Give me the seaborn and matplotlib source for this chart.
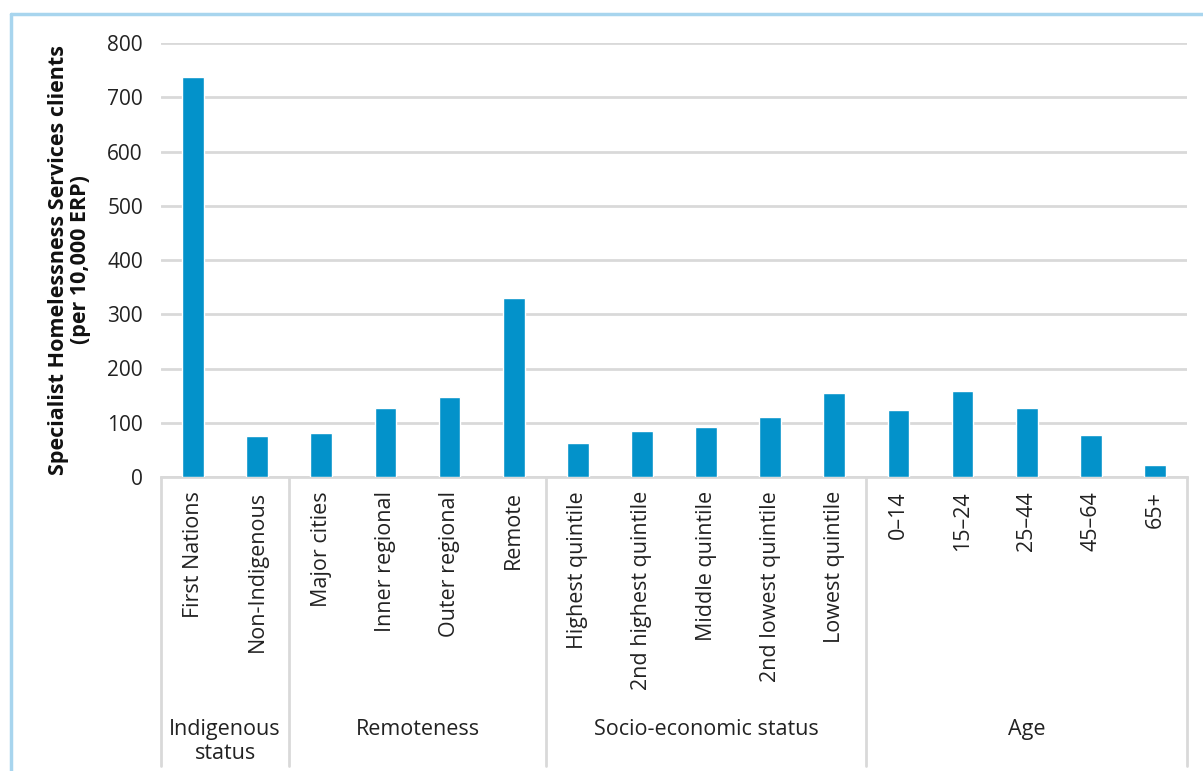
import matplotlib
matplotlib.use("Agg")
import matplotlib.pyplot as plt
import matplotlib.transforms as mtransforms
from matplotlib.lines import Line2D
import seaborn as sns
import pandas as pd

categories = ["First Nations", "Non-Indigenous",
              "Major cities", "Inner regional", "Outer regional", "Remote",
              "Highest quintile", "2nd highest quintile", "Middle quintile",
              "2nd lowest quintile", "Lowest quintile",
              "0–14", "15–24", "25–44", "45–64", "65+"]
values = [737, 76, 82, 128, 147, 330, 62, 85, 92, 111, 154, 123, 158, 128, 78, 23]
groups = ["Indigenous\nstatus", "Remoteness", "Socio-economic status", "Age"]
group_sizes = [2, 4, 5, 5]
y_ticks = [0, 100, 200, 300, 400, 500, 600, 700, 800]

sns.set_theme(style="white")
plt.rcParams["font.family"] = ["Open Sans", "DejaVu Sans"]

fig = plt.figure(figsize=(12.03, 7.71), dpi=100)
ax = fig.add_axes([161/1203, 1-477/771, (1187-161)/1203, (477-43)/771])

df = pd.DataFrame({"category": categories, "value": values})
sns.barplot(data=df, x="category", y="value", order=categories,
            color="#0392CA", saturation=1, width=0.34, ax=ax, zorder=3)

ax.set_ylim(0, 800)
ax.set_xlim(-0.5, len(categories) - 0.5)
ax.set_yticks(y_ticks)
ax.set_yticklabels([str(t) for t in y_ticks], fontsize=15, color="#222222")
ax.yaxis.grid(True, color="#d9d9d9", linewidth=2, zorder=0)
ax.tick_params(axis="y", length=0, pad=13)
ax.tick_params(axis="x", length=0, pad=10)
ax.set_xticks(range(len(categories)))
ax.set_xticklabels(categories, rotation=90, fontsize=15.5, color="#222222", va="top")
ax.set_xlabel("")
ax.set_ylabel("Specialist Homelessness Services clients\n(per 10,000 ERP)",
              fontsize=15.5, fontweight="bold", color="#111111", labelpad=12,
              linespacing=1.05)
for s in ["top", "right", "left"]:
    ax.spines[s].set_visible(False)
ax.spines["bottom"].set_color("#d9d9d9")
ax.spines["bottom"].set_linewidth(2)

# group separators and labels
trans = mtransforms.blended_transform_factory(ax.transData, fig.transFigure)
y_bot = 1 - 766/771
y_top = 1 - 477/771
pos = -0.5
edges = [pos]
for n in group_sizes:
    pos += n
    edges.append(pos)
for e in edges:
    ax.add_line(Line2D([e, e], [y_top, y_bot], transform=trans, color="#d9d9d9",
                       linewidth=2, clip_on=False))
for g, a, b in zip(groups, edges[:-1], edges[1:]):
    ax.text((a + b) / 2, 1 - 719/771, g, transform=trans, ha="center", va="top",
            fontsize=15.5, color="#222222", linespacing=1.2)

# outer light blue frame
fig.add_artist(Line2D([11/1203, 11/1203], [0, 1 - 14/771], transform=fig.transFigure,
                      color="#a8d5ee", linewidth=2.5))
fig.add_artist(Line2D([11/1203, 1], [1 - 14/771, 1 - 14/771], transform=fig.transFigure,
                      color="#a8d5ee", linewidth=2.5))

fig.savefig("out.png", dpi=100)
